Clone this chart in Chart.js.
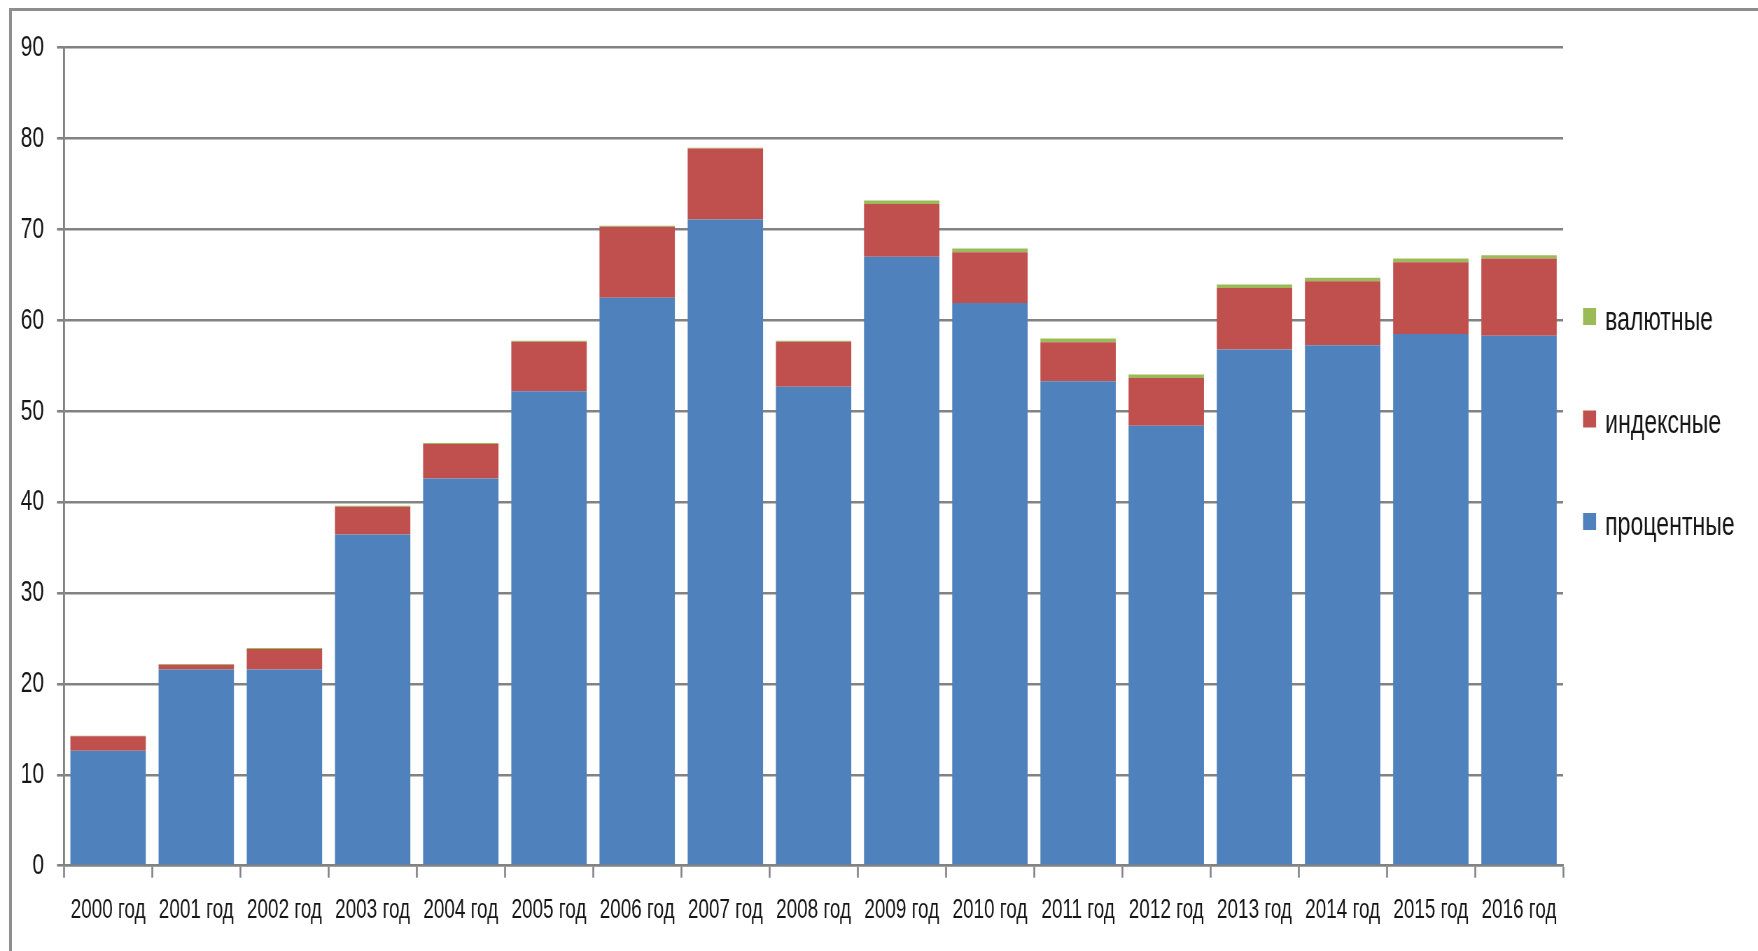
<!DOCTYPE html>
<html lang="ru">
<head>
<meta charset="utf-8">
<title>Структура</title>
<script src="https://cdn.jsdelivr.net/npm/chart.js@4/dist/chart.umd.min.js"></script>
<style>
  html, body { margin: 0; padding: 0; background: #ffffff; overflow: hidden; }
  body { width: 1758px; height: 951px; position: relative; }
  #frame {
    position: absolute; left: 9px; top: 8px; width: 1800px; height: 1000px;
    border-left: 3px solid #8e8e8e; border-top: 3px solid #8e8e8e;
  }
  /* the drawing is laid out wide and compressed horizontally, giving the narrow lettering */
  #wrap {
    position: absolute; left: 0; top: 0; width: 2512px; height: 951px;
    transform: scaleX(0.7); transform-origin: 0 0;
  }
</style>
</head>
<body>
<div id="frame"></div>
<div id="wrap"><canvas id="chart"></canvas></div>
<script>
// Years on the horizontal axis
const years = ['2000 год', '2001 год', '2002 год', '2003 год', '2004 год', '2005 год',
  '2006 год', '2007 год', '2008 год', '2009 год', '2010 год', '2011 год',
  '2012 год', '2013 год', '2014 год', '2015 год', '2016 год'];

// Stacked series, bottom to top
const procentnye = [12.65, 21.6, 21.6, 36.45, 42.6, 52.2, 62.5, 71.1, 52.7,
  67.0, 61.9, 53.3, 48.4, 56.8, 57.25, 58.5, 58.3];
const indeksnye = [1.6, 0.5, 2.25, 3.05, 3.8, 5.45, 7.8, 7.8, 4.95,
  5.8, 5.6, 4.3, 5.25, 6.75, 7.05, 7.9, 8.5];
const valyutnye = [0.05, 0.1, 0.1, 0.1, 0.1, 0.1, 0.1, 0.1, 0.1,
  0.4, 0.4, 0.4, 0.4, 0.4, 0.4, 0.4, 0.37];

// Value axis ticks
const yTicks = [0, 10, 20, 30, 40, 50, 60, 70, 80, 90];

const GRID = '#828282';
const INK = '#161616';

function fontAvailable(name) {
  const ctx = document.createElement('canvas').getContext('2d');
  const probe = '2000 год валютные';
  ctx.font = '40px monospace';
  const a = ctx.measureText(probe).width;
  ctx.font = '40px "' + name + '", monospace';
  const b = ctx.measureText(probe).width;
  return Math.abs(a - b) > 0.5;
}
const narrow = fontAvailable('Liberation Sans Narrow');
const xFont = narrow
  ? { family: '"Liberation Sans Narrow", "Liberation Sans", Arial, sans-serif', size: 34 }
  : { family: '"Liberation Sans", Arial, sans-serif', size: 27 };

// Legend drawn at the right of the plot, top item = top of the stack
const sideLegend = {
  id: 'sideLegend',
  afterDraw(chart, args, o) {
    const ctx = chart.ctx;
    const right = chart.chartArea.right;
    const items = chart.data.datasets.slice().reverse();
    ctx.save();
    ctx.font = o.fontSize + 'px "Liberation Sans", Arial, sans-serif';
    ctx.textAlign = 'left';
    ctx.textBaseline = 'alphabetic';
    items.forEach((ds, i) => {
      const base = o.firstBaseline + i * o.spacing;
      ctx.fillStyle = ds.backgroundColor;
      ctx.fillRect(right + o.boxGap, base - o.boxRise, o.boxW, o.boxH);
      ctx.fillStyle = INK;
      ctx.fillText(ds.label, right + o.textGap, base);
    });
    ctx.restore();
  }
};

const yTickSet = new Set(yTicks);

new Chart(document.getElementById('chart'), {
  type: 'bar',
  data: {
    labels: years,
    datasets: [
      { label: 'процентные', data: procentnye, backgroundColor: '#4f81bd' },
      { label: 'индексные', data: indeksnye, backgroundColor: '#c0504d' },
      { label: 'валютные', data: valyutnye, backgroundColor: '#9bbb59' }
    ]
  },
  plugins: [sideLegend],
  options: {
    responsive: true,
    maintainAspectRatio: false,
    devicePixelRatio: 1,
    animation: false,
    events: [],
    layout: { padding: { left: 0, top: 47.7, right: 279, bottom: 0 } },
    datasets: {
      bar: { categoryPercentage: 1.0, barPercentage: 0.855, borderWidth: 0 }
    },
    plugins: {
      legend: { display: false },
      tooltip: { enabled: false },
      sideLegend: {
        fontSize: 33, firstBaseline: 330, spacing: 102.5,
        boxGap: 28.5, boxW: 18.6, boxH: 17, boxRise: 22, textGap: 60
      }
    },
    scales: {
      x: {
        stacked: true,
        grid: {
          offset: true, drawOnChartArea: false, drawTicks: true,
          tickLength: 12, tickWidth: 2.6, tickColor: GRID
        },
        border: { display: true, color: GRID, width: 2.6 },
        ticks: {
          autoSkip: false, maxRotation: 0, minRotation: 0,
          padding: 16.5, color: INK, font: xFont
        },
        afterFit(scale) { scale.height = 85.3; }
      },
      y: {
        stacked: true,
        min: 0, max: 90,
        afterBuildTicks(scale) { scale.ticks = yTicks.map(v => ({ value: v })); },
        grid: {
          color: GRID, lineWidth: 2.6, drawTicks: true, tickLength: 10,
          tickColor: GRID, tickWidth: 2.6
        },
        border: { display: true, color: GRID, width: 2.9 },
        ticks: {
          stepSize: 10, padding: 18.5, color: INK,
          font: { family: '"Liberation Sans", Arial, sans-serif', size: 30 },
          callback: v => yTickSet.has(v) ? String(v) : ''
        },
        afterFit(scale) { scale.width = 91.4; }
      }
    }
  }
});
</script>
</body>
</html>
